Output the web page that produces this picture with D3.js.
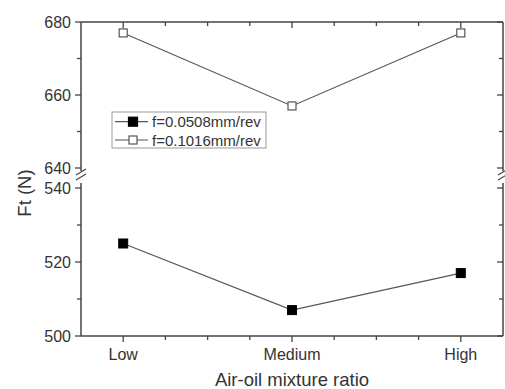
<!DOCTYPE html>
<html><head><meta charset="utf-8">
<script src="https://cdn.jsdelivr.net/npm/d3@7"></script>
<style>body{margin:0;background:#fff}svg{display:block}text{font-family:Arial,"Liberation Sans",sans-serif;fill:#333}</style>
</head><body>
<svg id="c" width="505" height="389"></svg>
<script>
const categories = ["Low", "Medium", "High"];
const seriesNames = ["f=0.0508mm/rev", "f=0.1016mm/rev"];
const f0508 = [525, 507, 517];
const f1016 = [677, 657, 677];
const upperTicks = [640, 660, 680];
const upperMinor = [650, 670];
const lowerTicks = [500, 520, 540];
const lowerMinor = [510, 530];
const xTitle = "Air-oil mixture ratio";
const yTitle = "Ft (N)";

const svg = d3.select("#c");
const L = 81, R = 503, T = 22, B = 336;
const upperBottom = 168, lowerTop = 188;
const axisColor = "#444", lineColor = "#555";

const x = d3.scaleLinear().domain([0.75, 3.25]).range([L, R]);
const yU = d3.scaleLinear().domain([640, 680]).range([upperBottom, T]);
const yL = d3.scaleLinear().domain([500, 540]).range([B, lowerTop]);
const yv = v => v >= 600 ? yU(v) : yL(v);

const g = svg.append("g");
// frame lines
const breakTop = 171, breakBot = 183;
function vline(xx, y1, y2){ g.append("line").attr("x1",xx).attr("x2",xx).attr("y1",y1).attr("y2",y2).attr("stroke",axisColor).attr("stroke-width",1.5); }
function hline(yy){ g.append("line").attr("x1",L).attr("x2",R).attr("y1",yy).attr("y2",yy).attr("stroke",axisColor).attr("stroke-width",1.5); }
hline(T); hline(B);
[L, R].forEach(xx => { vline(xx, T, breakTop); vline(xx, breakBot, B); });
// break marks
[L, R].forEach(xx => {
  [breakTop+1, breakTop+6].forEach(yy => {
    g.append("line").attr("x1", xx-5).attr("x2", xx+5).attr("y1", yy+3).attr("y2", yy-3)
      .attr("stroke", axisColor).attr("stroke-width", 1.1);
  });
});

// x axis ticks
const xMajor = [1,2,3];
const xMinor = [1.25,1.5,1.75,2.25,2.5,2.75];
xMajor.forEach(v => {
  g.append("line").attr("x1",x(v)).attr("x2",x(v)).attr("y1",B).attr("y2",B+6).attr("stroke",axisColor).attr("stroke-width",1.3);
  g.append("line").attr("x1",x(v)).attr("x2",x(v)).attr("y1",T).attr("y2",T+6).attr("stroke",axisColor).attr("stroke-width",1.3);
});
xMinor.forEach(v => {
  g.append("line").attr("x1",x(v)).attr("x2",x(v)).attr("y1",B).attr("y2",B+4).attr("stroke",axisColor).attr("stroke-width",1.3);
  g.append("line").attr("x1",x(v)).attr("x2",x(v)).attr("y1",T).attr("y2",T+4).attr("stroke",axisColor).attr("stroke-width",1.3);
});
g.selectAll(".xl").data(categories).enter().append("text")
  .attr("x",(d,i)=>x(i+1)).attr("y",B+24).attr("text-anchor","middle").attr("font-size",16).text(d=>d);

// y ticks
function yTicks(scale, major, minor){
  major.forEach(v => {
    g.append("line").attr("x1",L-6).attr("x2",L).attr("y1",scale(v)).attr("y2",scale(v)).attr("stroke",axisColor).attr("stroke-width",1.3);
    g.append("line").attr("x1",R-6).attr("x2",R).attr("y1",scale(v)).attr("y2",scale(v)).attr("stroke",axisColor).attr("stroke-width",1.3);
    g.append("text").attr("x",L-10).attr("y",scale(v)+6).attr("text-anchor","end").attr("font-size",16).text(v);
  });
  minor.forEach(v => {
    g.append("line").attr("x1",L-4).attr("x2",L).attr("y1",scale(v)).attr("y2",scale(v)).attr("stroke",axisColor).attr("stroke-width",1.3);
    g.append("line").attr("x1",R-4).attr("x2",R).attr("y1",scale(v)).attr("y2",scale(v)).attr("stroke",axisColor).attr("stroke-width",1.3);
  });
}
yTicks(yU, upperTicks, upperMinor);
yTicks(yL, lowerTicks, lowerMinor);

// titles
g.append("text").attr("x",(L+R)/2).attr("y",386).attr("text-anchor","middle").attr("font-size",18.5).text(xTitle);
g.append("text").attr("transform","translate(31,193) rotate(-90)").attr("text-anchor","middle").attr("font-size",18.5).text(yTitle);

// series
const line = d3.line().x((d,i)=>x(i+1)).y(d=>yv(d));
[[f0508,true],[f1016,false]].forEach(([data, filled]) => {
  g.append("path").attr("d", line(data)).attr("fill","none").attr("stroke",lineColor).attr("stroke-width",1.2);
  const s = filled ? 9 : 8;
  g.selectAll(null).data(data).enter().append("rect")
    .attr("x",(d,i)=>x(i+1)-s/2).attr("y",d=>yv(d)-s/2).attr("width",s).attr("height",s)
    .attr("fill", filled ? "#000" : "#fff").attr("stroke", filled ? "#000" : "#555").attr("stroke-width", filled ? 1 : 1.2);
});

// legend
const lg = svg.append("g");
lg.append("rect").attr("x",112).attr("y",112).attr("width",154).attr("height",36).attr("fill","#fff").attr("stroke","#999").attr("stroke-width",1);
seriesNames.forEach((name, i) => {
  const yy = 121.7 + i*18.3;
  lg.append("line").attr("x1",115).attr("x2",148).attr("y1",yy).attr("y2",yy).attr("stroke",lineColor).attr("stroke-width",1.2);
  const s = i===0 ? 9 : 8;
  lg.append("rect").attr("x",133-s/2).attr("y",yy-s/2).attr("width",s).attr("height",s)
    .attr("fill", i===0 ? "#000" : "#fff").attr("stroke", i===0 ? "#000" : "#555").attr("stroke-width",1.2);
  lg.append("text").attr("x",152).attr("y",yy+5.5).attr("font-size",15).text(name);
});
</script>
</body></html>
